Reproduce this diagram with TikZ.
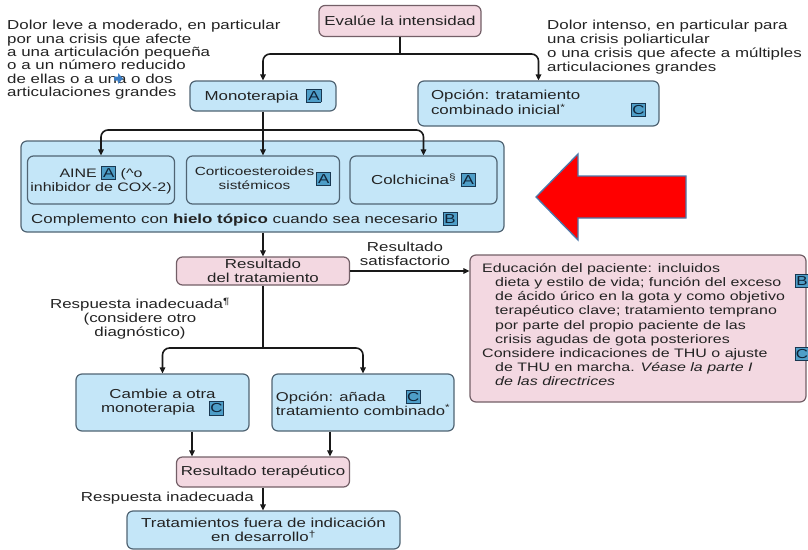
\documentclass[tikz,border=0pt]{standalone}
\usepackage{fontspec}
\setmainfont{Liberation Sans}[FakeStretch=1.3]
\usetikzlibrary{arrows.meta}
\definecolor{pinkfill}{RGB}{243,216,225}
\definecolor{pinkline}{RGB}{115,95,103}
\definecolor{bluefill}{RGB}{196,230,248}
\definecolor{blueline}{RGB}{80,100,115}
\definecolor{bdgfill}{RGB}{78,158,200}
\definecolor{bdgline}{RGB}{25,55,80}
\definecolor{bdgtext}{RGB}{15,35,55}
\definecolor{txt}{RGB}{35,35,35}
\definecolor{arrowedge}{RGB}{75,120,170}
\definecolor{smallarrow}{RGB}{60,125,195}
\newcommand\badge[1]{{\setlength{\fboxsep}{1.6pt}\setlength{\fboxrule}{0.9pt}\fcolorbox{bdgline}{bdgfill}{\makebox[10pt]{\color{bdgtext}\fontsize{13}{13}\selectfont\vphantom{A}#1}}}}
\begin{document}
\begin{tikzpicture}[x=1pt,y=-1pt,
  font=\fontsize{13}{14}\selectfont, text=txt,
  pinkbox/.style={draw=pinkline, fill=pinkfill, line width=1.2pt, rounded corners=6pt, inner sep=1.5pt, align=center},
  bluebox/.style={draw=blueline, fill=bluefill, line width=1.2pt, rounded corners=6pt, inner sep=1.5pt, align=center},
  conn/.style={draw=black!90, line width=1.6pt},
  arr/.style={conn, -{Triangle[length=6pt,width=5.5pt]}},
  lbl/.style={inner sep=0pt, align=center},
  badgenode/.style={inner sep=0pt}]
\useasboundingbox (0,0) rectangle (808,549);

% free texts
\node[anchor=north west, inner sep=0pt, align=left, font=\fontsize{13}{13.4}\selectfont] (lefttxt) at (7,20)
 {Dolor leve a moderado, en particular\\por una crisis que afecte\\a una articulación pequeña\\o a un número reducido\\de ellas o a una o dos\\articulaciones grandes};
\node[anchor=north west, inner sep=0pt, align=left, font=\fontsize{13}{14.1}\selectfont] (righttxt) at (547,20)
 {Dolor intenso, en particular para\\una crisis poliarticular\\o una crisis que afecte a múltiples\\articulaciones grandes};
\fill[smallarrow] (114,76.5) -- (118,76.5) -- (118,73) -- (123,78.5) -- (118,84) -- (118,80.5) -- (114,80.5) -- cycle;

% boxes
\node[pinkbox, minimum width=162, minimum height=31] (eval) at (400,21) {Evalúe la intensidad};
\node[bluebox, minimum width=146, minimum height=30] (mono) at (263,96) {Monoterapia\hspace{8pt}\badge{A}};
\node[bluebox, minimum width=241, minimum height=45, text width=215, align=left] (opc1) at (538.5,103.5)
 {Opción: tratamiento\\combinado inicial\textsuperscript{*}\hfill\badge{C}};

\node[bluebox, minimum width=483, minimum height=91] (cont) at (262.5,186.5) {};
\node[bluebox, minimum width=147, minimum height=48, font=\fontsize{12.3}{13.5}\selectfont] (aine) at (101,180)
 {AINE \badge{A} (\textasciicircum o\\inhibidor de COX-2)};
\node[bluebox, minimum width=153, minimum height=48, font=\fontsize{11.8}{13.5}\selectfont] (cort) at (263,180)
 {\begin{tabular}{@{}c@{}}Corticoesteroides\\sistémicos\end{tabular}\,\badge{A}};
\node[bluebox, minimum width=147, minimum height=48] (colch) at (423.5,180)
 {Colchicina\textsuperscript{\S}\ \badge{A}};
\node[anchor=west, inner sep=0pt] (comp) at (31,219)
 {Complemento con \textbf{hielo tópico} cuando sea necesario \badge{B}};

\node[pinkbox, minimum width=173, minimum height=28] (res) at (263,271) {Resultado\\del tratamiento};
\node[lbl] (satlbl) at (405,254) {Resultado\\satisfactorio};

\node[pinkbox, minimum width=336, minimum height=147] (pinkb) at (638,328.5) {};
\node[anchor=north west, inner sep=0pt, align=left, font=\fontsize{12.3}{14.2}\selectfont] (pinktxt) at (482,263)
 {Educación del paciente: incluidos\\
 \hspace*{13pt}dieta y estilo de vida; función del exceso\\
 \hspace*{13pt}de ácido úrico en la gota y como objetivo\\
 \hspace*{13pt}terapéutico clave; tratamiento temprano\\
 \hspace*{13pt}por parte del propio paciente de las\\
 \hspace*{13pt}crisis agudas de gota posteriores\\
 Considere indicaciones de THU o ajuste\\
 \hspace*{13pt}de THU en marcha. \textit{Véase la parte I}\\
 \hspace*{13pt}\textit{de las directrices}};
\node[badgenode] (bB) at (802,281) {\badge{B}};
\node[badgenode] (bC) at (802,354) {\badge{C}};

\node[lbl] (inad1) at (140,319) {Respuesta inadecuada\textsuperscript{\P}\\(considere otro\\diagnóstico)};

\node[bluebox, minimum width=173, minimum height=57] (cambie) at (162.5,402.5)
 {Cambie a otra\\monoterapia\hspace{14pt}\badge{C}};
\node[bluebox, minimum width=182, minimum height=57, align=left, font=\fontsize{12.8}{14}\selectfont] (opcA) at (363,402.5)
 {Opción: añada\hspace{20pt}\badge{C}\\tratamiento combinado\textsuperscript{*}};

\node[pinkbox, minimum width=173, minimum height=30] (resT) at (263,472) {Resultado terapéutico};
\node[lbl, anchor=east] (inad2) at (254,498) {Respuesta inadecuada};
\node[bluebox, minimum width=273, minimum height=38] (trat) at (263.5,530)
 {Tratamientos fuera de indicación\\en desarrollo\textsuperscript{\dag}};

% red arrow
\draw[fill=red, draw=arrowedge, line width=1.3pt, line join=miter] (536,197) -- (578,154) -- (578,176) -- (686,176) -- (686,218) -- (578,218) -- (578,240) -- cycle;

% connectors
\coordinate (j1) at (400,54);
\draw[conn] (eval.south) -- (j1);
\draw[arr, rounded corners=7pt] (j1) -| (mono.north);
\draw[arr, rounded corners=7pt] (j1) -| (opc1.north);

\coordinate (j2) at (263,130);
\draw[conn] (mono.south) -- (j2);
\draw[arr, rounded corners=7pt] (j2) -| (aine.north);
\draw[arr] (j2) -- (cort.north);
\draw[arr, rounded corners=7pt] (j2) -| (colch.north);

\draw[arr] (cont.south -| res.north) -- (res.north);
\draw[arr] (res.east) -- (res.east -| pinkb.west);

\coordinate (j3) at (263,348);
\draw[conn] (res.south) -- (j3);
\draw[arr, rounded corners=7pt] (j3) -| (cambie.north);
\draw[arr, rounded corners=7pt] (j3) -| (opcA.north);

\draw[arr] ([xshift=29.5pt]cambie.south) -- ([xshift=29.5pt]cambie.south |- resT.north);
\draw[arr] ([xshift=-33pt]opcA.south) -- ([xshift=-33pt]opcA.south |- resT.north);
\draw[arr] (resT.south) -- (resT.south |- trat.north);
\end{tikzpicture}
\end{document}
